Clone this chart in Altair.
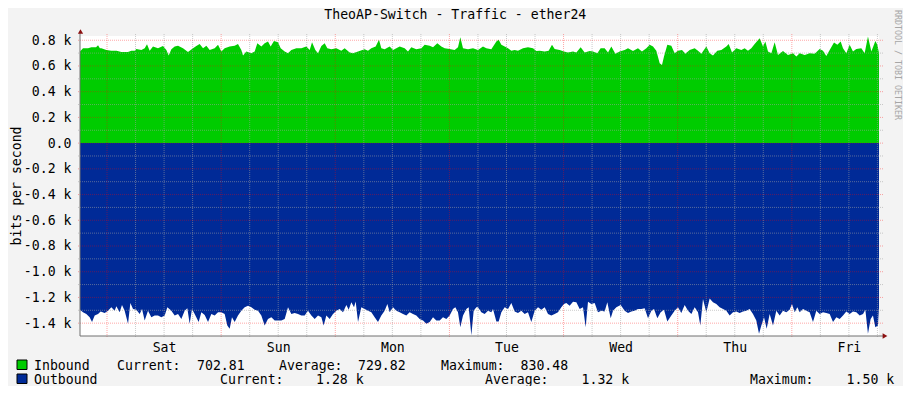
import altair as alt
import pandas as pd

# ---------------- data ----------------
TITLE = "TheoAP-Switch - Traffic - ether24"
Y_TITLE = "bits per second"
CREDIT = "RRDTOOL / TOBI OETIKER"
DAYS = ["Sat", "Sun", "Mon", "Tue", "Wed", "Thu", "Fri"]
SERIES = ["Inbound", "Outbound"]
COLORS = ["#00CC00", "#002A97"]
STAT_NAMES = ["Current:", "Average:", "Maximum:"]
IN_STATS = ["702.81", "729.82", "830.48"]
OUT_STATS = ["1.28 k", "1.32 k", "1.50 k"]

# time in hours relative to Saturday 00:00
X_START, X_END = -5.68, 162.33
Y_MIN, Y_MAX = -1500, 833
Y_TICKS = [-1400, -1200, -1000, -800, -600, -400, -200, 0, 200, 400, 600, 800]
DAY_TICKS = [12, 36, 60, 84, 108, 132, 156]

IN_HOURS = [
    -5.68, -5.05, -3.99, -3.29, -2.30, -1.89, -1.50, -1.19, -0.14, 0.91, 2.00, 3.01, 4.40, 5.12,
    5.82, 6.17, 7.22, 7.92, 8.41, 8.97, 9.67, 10.72, 11.77, 12.48, 12.97, 13.53, 14.23, 14.93,
    15.98, 17.03, 18.08, 18.78, 19.48, 20.19, 20.89, 21.59, 22.64, 23.34, 24.04, 24.74, 25.79,
    26.84, 27.54, 28.24, 28.60, 29.30, 30.35, 31.05, 31.61, 32.45, 33.15, 33.85, 34.41, 35.11,
    35.96, 36.52, 37.36, 38.06, 38.76, 39.81, 40.86, 41.91, 42.62, 43.11, 43.81, 44.37, 45.07,
    45.77, 46.33, 47.17, 48.22, 49.27, 49.97, 51.03, 51.73, 52.78, 54.18, 54.88, 55.58, 56.49,
    57.19, 57.68, 58.38, 59.44, 60.14, 60.84, 61.54, 62.59, 63.29, 63.99, 65.04, 66.09, 66.80,
    67.85, 68.55, 69.46, 70.30, 71.00, 72.05, 73.10, 73.80, 74.29, 74.86, 75.91, 76.96,
    78.01, 79.06, 79.76, 80.81, 81.87, 82.36, 82.92, 83.62, 84.32, 85.02, 85.72, 86.42, 87.47,
    88.52, 89.57, 90.28, 90.98, 92.03, 92.87, 93.57, 94.13, 95.18, 96.09, 96.93, 97.99, 98.69,
    99.60, 100.44, 101.49, 102.19, 103.10, 103.80, 104.64, 105.35, 106.05, 106.89, 107.80,
    108.85, 109.55, 110.60, 111.65, 112.49, 113.41, 114.11, 114.81, 115.51, 116.21, 116.70,
    117.12, 117.82, 118.66, 119.36, 120.06, 120.91, 121.61, 122.52, 123.57, 124.27, 124.97,
    126.02, 126.72, 127.42, 128.33, 129.18, 130.23, 130.72, 131.42, 132.33, 133.38, 134.08,
    134.78, 135.48, 136.18, 137.24, 137.94, 138.43, 138.99, 139.69, 140.39, 141.09, 142.14,
    143.19, 144.25, 144.95, 145.65, 146.70, 147.75, 148.80, 149.85, 150.55, 151.25, 151.96,
    152.87, 153.57, 154.27, 154.76, 155.46, 156.16, 156.86, 157.56, 158.61, 159.31, 160.01,
    160.72, 161.56, 161.98, 162.33,
]
IN_BPS = [
    712, 738, 738, 745, 745, 761, 738, 738, 725, 719, 719, 709, 709, 719,
    719, 732, 725, 738, 769, 719, 751, 738, 756, 725, 681, 730, 751, 758,
    738, 709, 738, 756, 771, 738, 758, 725, 738, 764, 712, 738, 751,
    758, 771, 725, 681, 712, 699, 712, 777, 751, 777, 790, 751, 795,
    784, 738, 712, 699, 725, 738, 738, 751, 725, 784, 725, 699, 756,
    777, 738, 730, 738, 719, 738, 704, 699, 712, 730, 719, 738, 751,
    803, 738, 730, 751, 725, 738, 751, 738, 712, 745, 730, 738, 764,
    758, 745, 777, 751, 738, 732, 725, 745, 823, 738, 730, 738,
    725, 751, 738, 730, 790, 803, 764, 751, 738, 719, 725, 719, 738,
    745, 738, 717, 719, 712, 719, 764, 732, 725, 712, 704, 712, 704,
    745, 704, 717, 712, 699, 738, 738, 704, 751, 694, 712,
    725, 738, 717, 738, 712, 738, 764, 751, 719, 621, 608,
    673, 764, 758, 699, 719, 725, 694, 725, 738, 719, 694,
    751, 699, 681, 719, 725, 751, 771, 704, 738, 725, 738,
    719, 738, 771, 816, 751, 790, 712, 699, 784, 686, 717,
    686, 699, 673, 699, 686, 699, 694, 732, 719, 678, 725,
    782, 764, 790, 738, 699, 764, 712, 732, 738, 699, 830,
    712, 795, 764, 703,
]

OUT_HOURS = [
    -5.68, -5.05, -4.35, -3.65, -3.15, -2.59, -1.89, -1.33, -0.49, 0.21, 0.91, 1.61, 1.96, 2.66,
    3.15, 3.71, 4.42, 4.91, 5.47, 6.17, 6.87, 7.36, 7.92, 8.62, 9.32, 10.02, 10.72, 11.42, 12.13,
    12.69, 13.53, 14.23, 14.93, 15.63, 16.33, 16.89, 17.38, 17.87, 18.43, 19.27, 19.84, 20.54,
    21.24, 21.94, 22.64, 23.34, 24.04, 24.74, 25.30, 25.79, 26.28, 26.84, 27.54, 28.24, 28.95,
    29.65, 30.35, 31.05, 31.75, 32.45, 33.15, 33.85, 34.55, 35.26, 35.96, 36.66, 37.36, 38.06,
    38.76, 39.46, 40.16, 40.86, 41.56, 42.26, 42.97, 43.67, 44.37, 45.07, 45.56, 46.12, 46.82,
    47.52, 48.22, 48.92, 49.62, 50.33, 50.82, 51.38, 51.94, 52.29, 52.78, 53.48, 54.18, 54.88,
    55.58, 56.28, 56.98, 57.68, 58.38, 58.95, 59.44, 60.14, 60.84, 61.54, 62.24, 62.94, 63.64,
    64.34, 65.04, 65.74, 66.45, 67.15, 67.85, 68.55, 69.25, 69.95, 70.65, 71.35, 72.05, 72.75,
    73.24, 73.80, 74.29, 74.86, 75.56, 76.05, 76.61, 77.10, 77.66,
    78.01, 78.71, 79.41, 80.11, 80.81, 81.16, 81.87, 82.36, 82.92, 83.62, 84.32, 85.02, 85.72,
    86.42, 87.12, 87.82, 88.52, 89.22, 89.93, 90.63, 91.33, 92.03, 92.73, 93.43, 94.13, 94.83,
    95.53, 96.09, 96.58, 97.28, 97.99, 98.69, 99.39, 100.09, 100.65, 101.14, 101.84, 102.54,
    103.24, 103.94, 104.64, 105.20, 105.91, 106.40, 107.10, 108.01, 108.85, 109.55, 110.25,
    110.95, 111.65, 112.35, 113.06, 113.76, 114.46, 115.02, 115.72, 116.42, 117.12, 117.82,
    118.66, 119.36, 120.06, 120.76, 121.47, 122.17, 122.87, 123.57, 124.27, 124.76, 125.32,
    126.02, 126.72, 127.42, 128.12, 128.82, 129.53, 130.23, 130.93, 131.63, 132.33, 133.03,
    133.73, 134.43, 135.13, 135.83, 136.53, 137.10, 137.59, 138.15, 138.71, 139.34, 140.04,
    140.74, 141.44, 142.14, 142.84, 143.54, 144.03, 144.60, 145.16, 145.65, 146.35, 147.05,
    147.75, 148.45, 149.15, 149.85, 150.55, 151.25, 151.96, 152.66, 153.36, 154.06, 154.76,
    155.46, 156.16, 156.86, 157.56, 158.27, 158.97, 159.46, 160.01, 160.57, 161.06, 161.56,
    162.11, 162.33,
]
OUT_BPS = [
    1295, 1315, 1328, 1354, 1392, 1341, 1328, 1310, 1321, 1303, 1277, 1303, 1269, 1315,
    1259, 1303, 1405, 1244, 1290, 1295, 1328, 1290, 1379, 1303, 1354, 1341, 1341, 1354, 1341,
    1277, 1303, 1341, 1328, 1367, 1303, 1285, 1405, 1290, 1328, 1392, 1315, 1336,
    1392, 1328, 1341, 1315, 1315, 1328, 1418, 1444, 1354, 1392, 1341, 1303, 1277,
    1264, 1277, 1295, 1303, 1341, 1418, 1367, 1354, 1379, 1379, 1379, 1367, 1277,
    1328, 1321, 1328, 1341, 1341, 1303, 1341, 1367, 1341, 1354, 1418, 1341, 1367,
    1328, 1303, 1290, 1315, 1259, 1295, 1238, 1277, 1231, 1392, 1277, 1290, 1303,
    1315, 1354, 1392, 1341, 1303, 1251, 1315, 1277, 1303, 1315, 1328, 1341, 1315,
    1328, 1341, 1367, 1379, 1405, 1392, 1354, 1379, 1379, 1354, 1367, 1341, 1290,
    1277, 1315, 1431, 1341, 1290, 1277, 1495, 1303, 1277,
    1277, 1315, 1328, 1303, 1315, 1290, 1387, 1387, 1315, 1277, 1290, 1244, 1310,
    1321, 1303, 1328, 1315, 1392, 1303, 1277, 1295, 1277, 1328, 1341, 1328, 1315,
    1277, 1251, 1244, 1264, 1233, 1238, 1290, 1277, 1431, 1233, 1251, 1244,
    1315, 1303, 1310, 1238, 1362, 1303, 1277, 1259, 1303, 1321, 1310,
    1303, 1290, 1290, 1285, 1362, 1303, 1290, 1362, 1315, 1295, 1387,
    1341, 1303, 1277, 1321, 1259, 1303, 1328, 1277, 1315, 1418, 1213,
    1315, 1208, 1238, 1251, 1277, 1290, 1303, 1341, 1315, 1310, 1321,
    1310, 1303, 1290, 1328, 1379, 1482, 1418, 1354, 1444, 1328, 1418,
    1303, 1341, 1303, 1315, 1295, 1251, 1315, 1277, 1315, 1290, 1303,
    1315, 1392, 1303, 1328, 1315, 1321, 1328, 1392, 1354, 1367, 1341,
    1310, 1328, 1310, 1315, 1341, 1328, 1295, 1482, 1367, 1341, 1431,
    1418, 1280,
]

# ---------------- style / layout ----------------
FONT = "DejaVu Sans Mono"
FS = 13.2
W, H = 799, 300
BG = "#F3F3F3"
AXIS_C = "#707070"
ARROW_C = "#8B1010"

xs = alt.Scale(domain=[X_START, X_END], nice=False, zero=False)
ys = alt.Scale(domain=[Y_MIN, Y_MAX], nice=False, zero=False)

day_expr = "[" + ",".join("'%s'" % d for d in DAYS) + "][floor(datum.value / 24)]"
y_expr = ("datum.value == 0 ? '0.0' : replace(format(datum.value / 1000, '.1f'), '\u2212', '-') + ' k'")

df_in = pd.DataFrame({"h": IN_HOURS, "bps": IN_BPS})
df_out = pd.DataFrame({"h": OUT_HOURS, "bps": [-v for v in OUT_BPS]})

x_axis = alt.Axis(values=DAY_TICKS, labelExpr=day_expr, labelFont=FONT, labelFontSize=FS,
                  labelColor="#000000", labelBaseline="alphabetic", labelPadding=15,
                  domain=False, ticks=False, grid=False, title=None)
y_axis = alt.Axis(values=Y_TICKS, labelExpr=y_expr, labelFont=FONT, labelFontSize=FS,
                  labelColor="#000000", labelPadding=9, domain=False, ticks=False,
                  grid=False, title=None)

X_ENC = alt.X("h:Q", scale=xs, axis=x_axis)
Y_ENC = alt.Y("bps:Q", scale=ys, axis=y_axis)

inbound = alt.Chart(df_in).mark_area(color=COLORS[0], opacity=1).encode(
    x=X_ENC, y=Y_ENC, y2=alt.datum(0))
outbound = alt.Chart(df_out).mark_area(color=COLORS[1], opacity=1).encode(
    x=X_ENC, y=Y_ENC, y2=alt.datum(0))

V_MINOR = [h for h in range(6, 163, 6) if h % 24]
V_MAJOR = list(range(0, 145, 24))
H_MINOR = list(range(-1300, 801, 200))
H_MAJOR = list(range(-1400, 801, 200))


def vrules(vals, color, op):
    return alt.Chart(pd.DataFrame({"h": vals})).mark_rule(
        color=color, opacity=op, strokeDash=[1, 1], strokeWidth=1
    ).encode(x=X_ENC, y=alt.value(-2), y2=alt.value(H + 2))


def hrules(vals, color, op):
    return alt.Chart(pd.DataFrame({"bps": vals})).mark_rule(
        color=color, opacity=op, strokeDash=[1, 1], strokeWidth=1
    ).encode(y=Y_ENC, x=alt.value(-2), x2=alt.value(W + 4))


one = pd.DataFrame({"k": [0]})
axis_v = alt.Chart(one).mark_rule(color=AXIS_C, strokeWidth=1).encode(
    x=alt.value(0), y=alt.value(-4), y2=alt.value(H))
axis_h = alt.Chart(one).mark_rule(color=AXIS_C, strokeWidth=1).encode(
    y=alt.value(H), x=alt.value(0), x2=alt.value(W + 4))
arrow_up = alt.Chart(one).mark_point(shape="triangle-up", filled=True, size=28,
                                     color=ARROW_C, opacity=1, strokeWidth=0).encode(
    x=alt.value(0.5), y=alt.value(-4.5))
arrow_right = alt.Chart(one).mark_point(shape="triangle-right", filled=True, size=30,
                                        color=ARROW_C, opacity=1, strokeWidth=0).encode(
    x=alt.value(W + 6), y=alt.value(H))


def text_layer(s, px, py, size=FS, color="#000000", align="left", angle=0,
               baseline="alphabetic"):
    return alt.Chart(pd.DataFrame({"t": [s]})).mark_text(
        font=FONT, fontSize=size, color=color, align=align, baseline=baseline, angle=angle
    ).encode(text="t:N", x=alt.value(px), y=alt.value(py))


def box_layer(color, y0, y1):
    return alt.Chart(one).mark_rect(fill=color, stroke="#000000", strokeWidth=1).encode(
        x=alt.value(-63), x2=alt.value(-53), y=alt.value(y0), y2=alt.value(y1))


texts = [
    text_layer(TITLE, 375.3, -16.7, align="center"),
    text_layer(Y_TITLE, -59, 150, angle=270, align="center"),
    text_layer(CREDIT, 817, -26, size=8.3, color="#A6A6A6", angle=90, baseline="middle"),
]

ROW1_Y, ROW2_Y = 333.5, 347.5
row1 = [SERIES[0], STAT_NAMES[0], IN_STATS[0], STAT_NAMES[1], IN_STATS[1], STAT_NAMES[2], IN_STATS[2]]
row1_x = [-46, 37, 117, 199, 278, 361, 440.5]
row2 = [SERIES[1], STAT_NAMES[0], OUT_STATS[0], STAT_NAMES[1], OUT_STATS[1], STAT_NAMES[2], OUT_STATS[2]]
row2_x = [-46, 140, 236, 405, 501.5, 670, 766.6]
for s, px in zip(row1, row1_x):
    texts.append(text_layer(s, px, ROW1_Y))
for s, px in zip(row2, row2_x):
    texts.append(text_layer(s, px, ROW2_Y))

layers = [
    inbound, outbound,
    vrules(V_MINOR, "#A0A0A0", 0.55), hrules(H_MINOR, "#A0A0A0", 0.55),
    vrules(V_MAJOR, "#FF0000", 0.35), hrules(H_MAJOR, "#FF0000", 0.35),
    axis_v, axis_h, arrow_up, arrow_right,
    box_layer(COLORS[0], ROW1_Y - 9.5, ROW1_Y), box_layer(COLORS[1], ROW2_Y - 9.5, ROW2_Y),
] + texts

chart = alt.layer(*layers).properties(
    width=W, height=H,
    padding={"left": 72, "top": 28, "right": 24, "bottom": 50},
    autosize=alt.AutoSizeParams(type="none"),
    background=BG,
).configure_view(fill="white", strokeWidth=0)

chart.save("out.html", embed_options={"renderer": "svg", "actions": False})
